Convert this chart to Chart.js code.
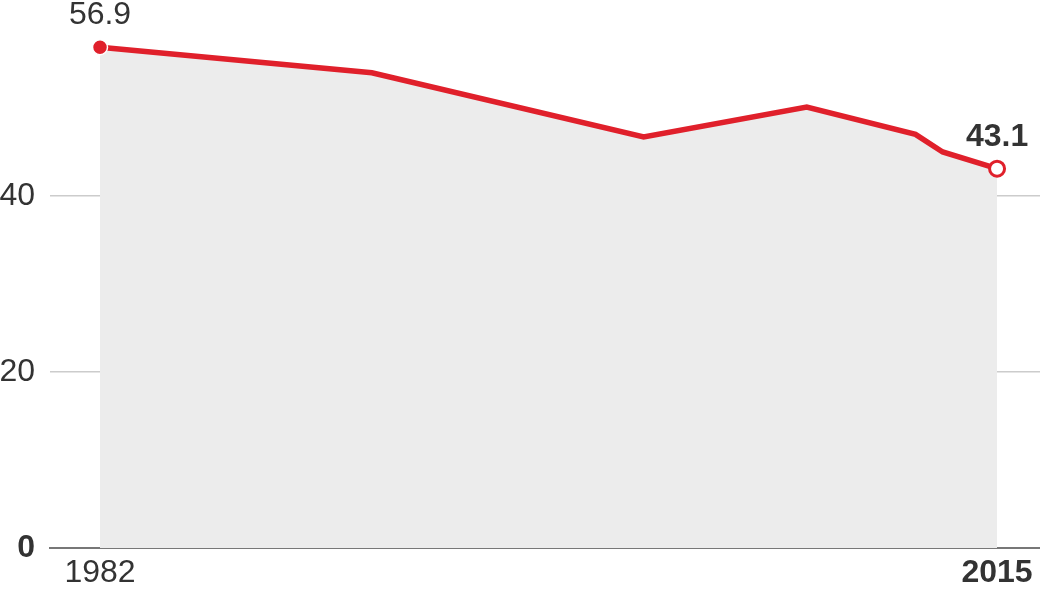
<!DOCTYPE html>
<html>
<head>
<meta charset="utf-8">
<script src="https://cdn.jsdelivr.net/npm/chart.js@4/dist/chart.umd.min.js"></script>
<style>
  html, body { margin: 0; padding: 0; background: #fff; }
  #wrap { width: 1040px; height: 590px; position: relative; }
</style>
</head>
<body>
<div id="wrap"><canvas id="chart" width="1040" height="590"></canvas></div>
<script>
// Data
const years = [1982, 1992, 2002, 2008, 2012, 2013, 2015];
const values = [56.9, 54.0, 46.7, 50.1, 47.0, 45.0, 43.1];
const yTicks = [0, 20, 40];
const xTicks = [1982, 2015];

const RED = '#e0202b';
const TEXT = '#333333';
const FONT = '"Liberation Sans", Arial, sans-serif';

const points = years.map((yr, i) => ({ x: yr, y: values[i] }));
const last = values.length - 1;

// end labels above first and last point
const endLabels = {
    id: 'endLabels',
    afterDatasetsDraw(chart) {
        const ctx = chart.ctx;
        const meta = chart.getDatasetMeta(0);
        ctx.save();
        ctx.textAlign = 'center';
        ctx.textBaseline = 'middle';
        ctx.fillStyle = TEXT;
        const first = meta.data[0];
        ctx.font = '32px ' + FONT;
        ctx.fillText(values[0].toFixed(1), first.x, first.y - 32);
        const end = meta.data[last];
        ctx.font = 'bold 32px ' + FONT;
        ctx.fillText(values[last].toFixed(1), end.x, end.y - 32);
        ctx.restore();
    }
};

new Chart(document.getElementById('chart'), {
    type: 'line',
    data: {
        datasets: [{
            data: points,
            borderColor: RED,
            borderWidth: 5.5,
            fill: 'origin',
            backgroundColor: '#ececec',
            tension: 0,
            clip: false,
            pointRadius: values.map((v, i) => (i === 0 || i === last) ? 7.5 : 0),
            pointBackgroundColor: values.map((v, i) => i === last ? '#ffffff' : RED),
            pointBorderColor: values.map((v, i) => i === last ? RED : '#ffffff'),
            pointBorderWidth: values.map((v, i) => i === last ? 3 : 1.5)
        }]
    },
    options: {
        responsive: false,
        animation: false,
        layout: { autoPadding: false, padding: { top: 20, left: 0, right: 0, bottom: 0 } },
        plugins: {
            legend: { display: false },
            tooltip: { enabled: false }
        },
        scales: {
            x: {
                type: 'linear',
                min: 1980.16,
                max: 2016.58,
                afterBuildTicks: (scale) => { scale.ticks = xTicks.map(v => ({ value: v })); },
                afterFit: (scale) => {
                    scale.height = 42;
                    scale.paddingLeft = 0;
                    scale.paddingRight = 0;
                },
                grid: { display: false, drawTicks: false },
                border: { display: true, color: '#777777', width: 2 },
                ticks: {
                    padding: 6,
                    color: TEXT,
                    maxRotation: 0,
                    autoSkip: false,
                    callback: (v) => String(v),
                    font: (c) => ({ family: FONT, size: 32, weight: c.tick && c.tick.value === 2015 ? 'bold' : 'normal' })
                }
            },
            y: {
                min: 0,
                max: 60,
                afterBuildTicks: (scale) => { scale.ticks = yTicks.map(v => ({ value: v })); },
                afterFit: (scale) => {
                    scale.width = 50;
                    scale.paddingTop = 0;
                    scale.paddingBottom = 0;
                },
                grid: {
                    drawTicks: false,
                    color: (c) => c.tick && c.tick.value === 0 ? 'rgba(0,0,0,0)' : '#cccccc',
                    lineWidth: 1.5
                },
                border: { display: false },
                ticks: {
                    padding: 15,
                    color: TEXT,
                    font: (c) => ({ family: FONT, size: 32, weight: c.tick && c.tick.value === 0 ? 'bold' : 'normal' })
                }
            }
        }
    },
    plugins: [endLabels]
});
</script>
</body>
</html>
